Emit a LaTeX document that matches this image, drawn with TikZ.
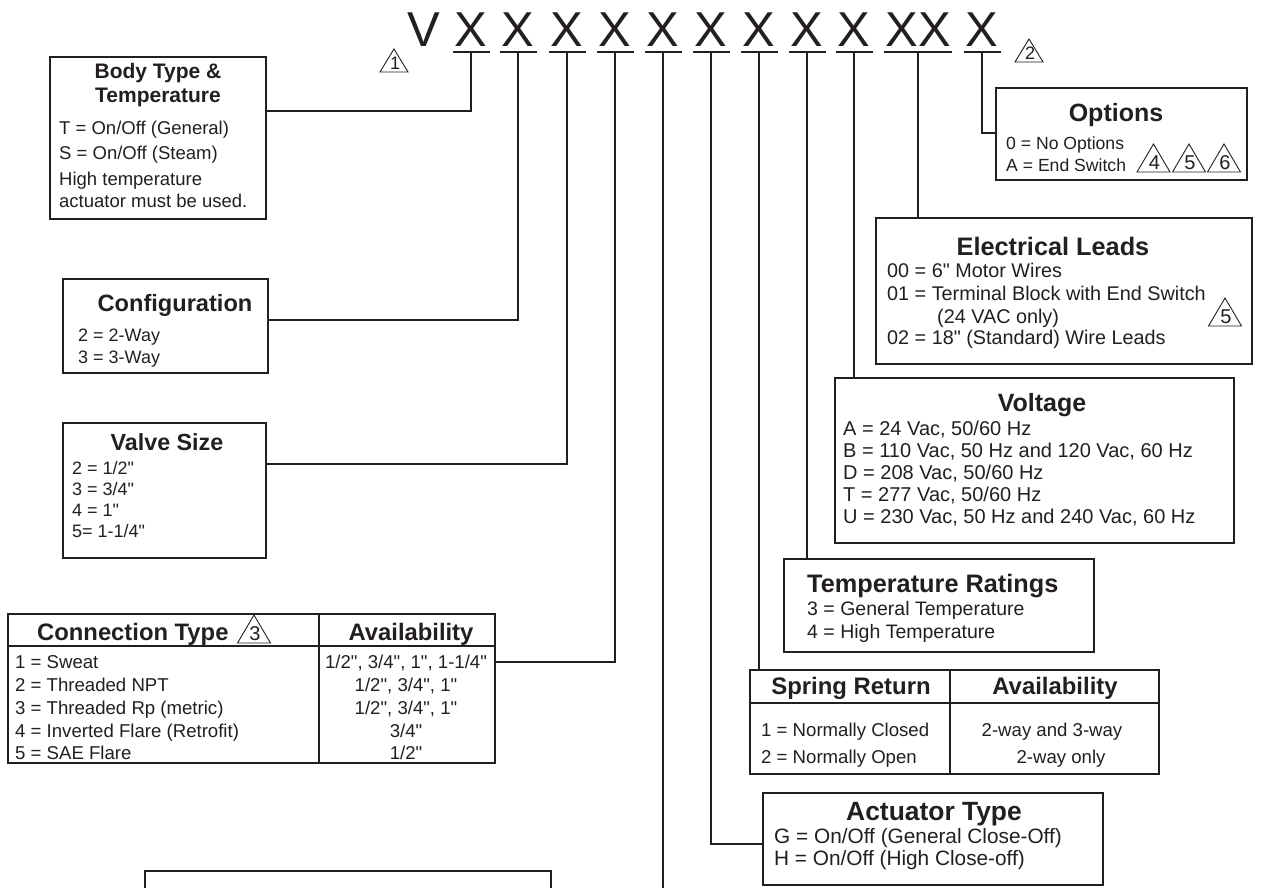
\documentclass[tikz,border=0pt]{standalone}
\usepackage{fontspec}
\newfontfamily\lib{Liberation Sans}
\usetikzlibrary{calc}
\definecolor{ink}{RGB}{35,31,32}
\newcommand{\fsz}[1]{\lib\fontsize{#1}{#1}\selectfont}
\newcommand{\boxat}[5]{\node[boxs, anchor=north west, minimum width={(#4-#2)*1pt}, minimum height={(#5-#3)*1pt}] (#1) at (#2,#3) {};}
\tikzset{
  boxs/.style={draw=ink, line width=2pt, inner sep=0pt, outer sep=0pt},
  wire/.style={draw=ink, line width=2.2pt},
  big/.style={font=\fsz{49}, inner sep=0pt, anchor=base, text=ink},
  ttl/.style={font=\fsz{#1}\bfseries, inner sep=0pt, anchor=base, text=ink},
  ttlw/.style={font=\fsz{#1}\bfseries, inner sep=0pt, anchor=base west, text=ink},
  txt/.style={font=\fsz{#1}, inner sep=0pt, anchor=base west, text=ink},
  txtc/.style={font=\fsz{#1}, inner sep=0pt, anchor=base, text=ink},
  tri/.pic={\draw[ink, line width=0.9pt, line join=miter] (-16.5,28)--(0,0)--(16.5,28)--cycle;
            \node[font=\fsz{20}, inner sep=0pt, anchor=base, text=ink] (-n) at (1,25) {#1};},
  trismall/.pic={\draw[ink, line width=0.9pt, line join=miter] (-14,23)--(0,0)--(14,23)--cycle;
            \node[font=\fsz{18}, inner sep=0pt, anchor=base, text=ink] (-n) at (1,20.5) {#1};}
}
\begin{document}
\begin{tikzpicture}[x=1pt, y=-1pt]
\useasboundingbox (0,0) rectangle (1287,888);
\clip (0,0) rectangle (1287,888);
\fill[white] (0,0) rectangle (1287,888);

% ---- model code letters
\node[big] (v) at (424,47) {V};
\foreach \i/\xx in {1/471,2/518,3/567,4/615,5/663,6/711,7/759,8/807,9/854,11/982} {
  \node[big] (x\i) at (\xx,47) {X};
  \coordinate (u\i) at (\xx,52);
  \draw[ink, line width=2.4pt] ($(u\i)+(-18.5,0)$) -- ($(u\i)+(18.5,0)$);
}
\node[big] (x10) at (918,47) {XX};
\coordinate (u10) at (918,52);
\draw[ink, line width=2.4pt] ($(u10)+(-34,0)$) -- ($(u10)+(34,0)$);

\pic (t1) at (394,49) {trismall=1};
\pic (t2) at (1029,39) {trismall=2};

% ---- boxes
\boxat{body}{50}{57}{266}{219}
\boxat{cfg}{63}{279}{268}{373}
\boxat{vs}{63}{423}{266}{558}
\boxat{ct}{8}{614}{495}{763}
\boxat{bb}{145}{871}{551}{940}
\boxat{opt}{996}{88}{1247}{180}
\boxat{el}{876}{218}{1252}{364}
\boxat{vo}{835}{378}{1234}{543}
\boxat{tr}{784}{559}{1094}{652}
\boxat{sr}{750}{670}{1159}{774}
\boxat{ac}{763}{793}{1103}{885}

% table rules
\draw[boxs] ($(ct.north west)+(0,32)$) -- ($(ct.north east)+(0,32)$);
\draw[boxs] ($(ct.north west)+(311,0)$) -- ($(ct.south west)+(311,0)$);
\draw[boxs] ($(sr.north west)+(0,33)$) -- ($(sr.north east)+(0,33)$);
\draw[boxs] ($(sr.north west)+(200,0)$) -- ($(sr.south west)+(200,0)$);

% ---- connectors
\draw[wire] (u1) |- ($(body.north east)+(0,54)$);
\draw[wire] (u2) |- ($(cfg.north east)+(0,41)$);
\draw[wire] (u3) |- ($(vs.north east)+(0,41)$);
\draw[wire] (u4) |- ($(ct.north east)+(0,48)$);
\coordinate (bot) at (663,888);
\draw[wire] (u5) -- (bot);
\draw[wire] (u6) |- ($(ac.north west)+(0,51)$);
\draw[wire] (u7) -- (u7 |- sr.north);
\draw[wire] (u8) -- (u8 |- tr.north);
\draw[wire] (u9) -- (u9 |- vo.north);
\draw[wire] (u10) -- (u10 |- el.north);
\draw[wire] (u11) |- ($(opt.north west)+(0,45)$);

% ---- Body type
\node[ttl=21] (b0) at (158,79) {Body Type \&};
\node[ttl=21] (b1) at (158,103) {Temperature};
\node[txt=18.5] (b2) at (59,135) {T = On/Off (General)};
\node[txt=18.5] (b3) at (59,159) {S = On/Off (Steam)};
\node[txt=18.5] (b4) at (59,185) {High temperature};
\node[txt=18.5] (b5) at (59,207) {actuator must be used.};

% ---- Configuration
\node[ttl=23.6] (c0) at (175,311) {Configuration};
\node[txt=18] (c1) at (78,341.5) {2 = 2-Way};
\node[txt=18] (c2) at (78,363.5) {3 = 3-Way};

% ---- Valve size
\node[ttl=23.3] (s0) at (167,450) {Valve Size};
\node[txt=18] (s1) at (72,474) {2 = 1/2"};
\node[txt=18] (s2) at (72,495) {3 = 3/4"};
\node[txt=18] (s3) at (72,516) {4 = 1"};
\node[txt=18] (s4) at (72,537) {5= 1-1/4"};

% ---- Connection type table
\node[ttlw=23.8] (k0) at (37,640.5) {Connection Type};
\pic (t3) at (254,615) {tri=3};
\node[ttl=23.8] (k1) at (411,640.5) {Availability};
\node[txt=18.6] (k2) at (15,668.5) {1 = Sweat};
\node[txt=18.6] (k3) at (15,691.5) {2 = Threaded NPT};
\node[txt=18.6] (k4) at (15,714.5) {3 = Threaded Rp (metric)};
\node[txt=18.6] (k5) at (15,737) {4 = Inverted Flare (Retrofit)};
\node[txt=18.6] (k6) at (15,759.5) {5 = SAE Flare};
\node[txtc=18.6] (k7) at (406,668.5) {1/2", 3/4", 1", 1-1/4"};
\node[txtc=18.6] (k8) at (406,691.5) {1/2", 3/4", 1"};
\node[txtc=18.6] (k9) at (406,714.5) {1/2", 3/4", 1"};
\node[txtc=18.6] (k10) at (406,737) {3/4"};
\node[txtc=18.6] (k11) at (406,759.5) {1/2"};

% ---- Options
\node[ttl=25] (o0) at (1116,122) {Options};
\node[txt=17.6] (o1) at (1006,149.5) {0 = No Options};
\node[txt=17.6] (o2) at (1006,171.5) {A = End Switch};
\pic (t4) at (1153.5,144) {tri=4};
\pic (t5) at (1189,144) {tri=5};
\pic (t6) at (1224,144) {tri=6};

% ---- Electrical leads
\node[ttl=25.3] (e0) at (1053,255) {Electrical Leads};
\node[txt=19.8] (e1) at (887,277) {00 = 6" Motor Wires};
\node[txt=19.8] (e2) at (887,300) {01 = Terminal Block with End Switch};
\node[txt=19.8] (e3) at (937,323) {(24 VAC only)};
\node[txt=19.8] (e4) at (887,344) {02 = 18" (Standard) Wire Leads};
\pic (t7) at (1225,298) {tri=5};

% ---- Voltage
\node[ttl=25] (w0) at (1042,411) {Voltage};
\node[txt=20] (w1) at (843,435) {A = 24 Vac, 50/60 Hz};
\node[txt=20] (w2) at (843,457) {B = 110 Vac, 50 Hz and 120 Vac, 60 Hz};
\node[txt=20] (w3) at (843,479) {D = 208 Vac, 50/60 Hz};
\node[txt=20] (w4) at (843,501) {T = 277 Vac, 50/60 Hz};
\node[txt=20] (w5) at (843,523) {U = 230 Vac, 50 Hz and 240 Vac, 60 Hz};

% ---- Temperature ratings
\node[ttlw=25.3] (r0) at (807,592) {Temperature Ratings};
\node[txt=19.5] (r1) at (807,615) {3 = General Temperature};
\node[txt=19.5] (r2) at (807,638) {4 = High Temperature};

% ---- Spring return table
\node[ttl=23.9] (p0) at (851,694.5) {Spring Return};
\node[ttl=23.9] (p1) at (1055,694.5) {Availability};
\node[txt=18.6] (p2) at (761,736) {1 = Normally Closed};
\node[txt=18.6] (p3) at (761,763) {2 = Normally Open};
\node[txtc=18.6] (p4) at (1052,736) {2-way and 3-way};
\node[txtc=18.6] (p5) at (1061,763) {2-way only};

% ---- Actuator type
\node[ttl=26.4] (a0) at (934,820.5) {Actuator Type};
\node[txt=20.8] (a1) at (774,843.5) {G = On/Off (General Close-Off)};
\node[txt=20.8] (a2) at (774,865.5) {H = On/Off (High Close-off)};
\end{tikzpicture}
\end{document}
